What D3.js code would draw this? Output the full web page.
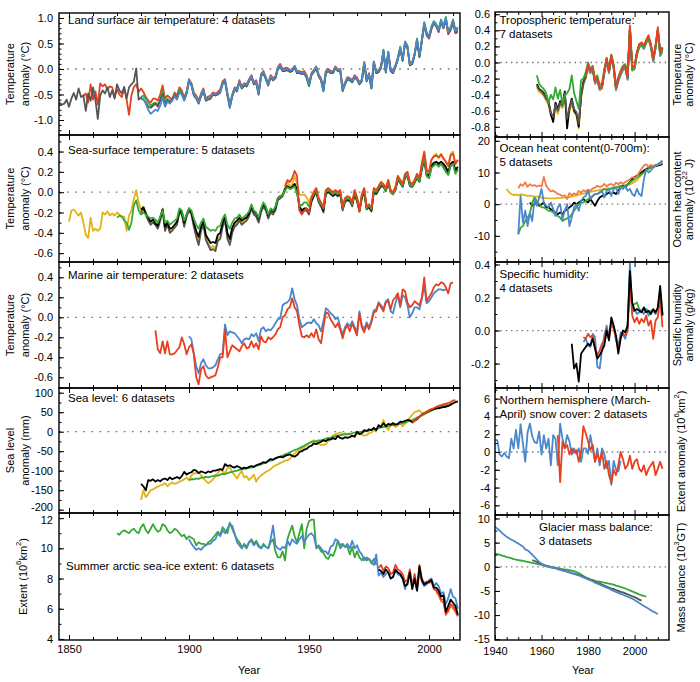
<!DOCTYPE html>
<html>
<head>
<meta charset="utf-8">
<script src="https://cdn.jsdelivr.net/npm/d3@7"></script>
<style>
  body { margin: 0; background: #fff; }
</style>
</head>
<body>
<script>
// ---- data (annual values) ----
const landGrayStart = 1846;
const landGray = [-0.66,-0.70,-0.68,-0.60,-0.74,-0.58,-0.47,-0.60,-0.38,-0.55,-0.52,-0.82,-0.48,-0.62,-0.36,-0.60,-0.98,-0.52,-0.42,-0.48,-0.36,-0.55,-0.42,-0.58,-0.30,-0.42,-0.48,-0.35,-0.58,-0.36,-0.30,-0.25,0.01,-0.60,
  -0.56,-0.60,-0.66,-0.74,-0.76,-0.72,-0.68,-0.74,-0.62,-0.50, -0.70,-0.62,-0.66,-0.58,-0.52,-0.58,-0.44,-0.50,-0.60,-0.48,
  -0.24,-0.32,-0.52,-0.58,-0.68,-0.54,-0.44,-0.62,-0.60,-0.58, -0.50,-0.52,-0.50,-0.46,-0.30,-0.24,-0.52,-0.76,-0.54,-0.40,
  -0.44,-0.26,-0.38,-0.32,-0.34,-0.24,-0.16,-0.30,-0.27,-0.50, -0.14,-0.08,-0.20,-0.32,-0.16,-0.22,-0.18,0.00,0.05,-0.04,
  -0.03,-0.02,-0.05,-0.04,0.04,-0.08,-0.07,-0.10,-0.08,-0.17, -0.32,-0.12,-0.05,0.02,-0.14,-0.22,-0.42,-0.08,-0.04,-0.08,
  -0.07,0.02,-0.04,-0.03,-0.42,-0.30,-0.20,-0.22,-0.26,-0.16, -0.21,-0.30,-0.24,0.10,-0.24,-0.12,-0.38,0.12,-0.08,-0.06,
  0.02,0.34,-0.07,0.30,-0.04,-0.08,0.04,0.18,0.40,0.16, 0.50,0.42,0.07,0.10,0.28,0.56,0.24,0.54,0.88,0.68,
  0.60,0.80,0.90,0.83,0.74,0.93,0.80,0.98,0.70,0.78, 0.93,0.72,0.76];
const landRedStart = 1856;
const landRed = [-0.52,-0.48,-0.66,-0.30,-0.60,-0.44,-0.70,-0.28,-0.34,-0.30,-0.40,-0.34,-0.36,-0.55,-0.40,-0.50,-0.55,-0.38,-0.60,-0.90,-0.52,-0.36,-0.30,-0.45,
  -0.38,-0.45,-0.55,-0.62,-0.66,-0.58,-0.58,-0.62,-0.50,-0.32, -0.58,-0.52,-0.56,-0.60,-0.46,-0.52,-0.36,-0.42,-0.56,-0.44,
  -0.20,-0.28,-0.46,-0.52,-0.62,-0.48,-0.38,-0.58,-0.54,-0.52, -0.46,-0.48,-0.45,-0.40,-0.24,-0.20,-0.46,-0.70,-0.50,-0.36,
  -0.38,-0.22,-0.34,-0.28,-0.30,-0.20,-0.12,-0.26,-0.22,-0.45, -0.10,-0.04,-0.16,-0.28,-0.12,-0.18,-0.14,0.04,0.10,0.00,
  0.02,0.02,-0.02,0.00,0.06,-0.04,-0.04,-0.06,-0.04,-0.12, -0.28,-0.08,-0.02,0.05,-0.10,-0.18,-0.38,-0.04,0.00,-0.04,
  -0.04,0.05,-0.01,0.00,-0.38,-0.26,-0.16,-0.18,-0.22,-0.12, -0.17,-0.26,-0.20,0.14,-0.20,-0.08,-0.34,0.15,-0.04,-0.02,
  0.06,0.34,-0.04,0.33,0.00,-0.04,0.08,0.21,0.40,0.20, 0.50,0.42,0.10,0.14,0.30,0.56,0.24,0.55,0.86,0.66,
  0.60,0.78,0.90,0.84,0.72,0.92,0.80,0.96,0.68,0.76, 0.90,0.70,0.72];
const landGreenStart = 1880;
const landGreen = [-0.55,-0.52,-0.58,-0.66,-0.72,-0.68,-0.66,-0.70,-0.60,-0.42, -0.66,-0.58,-0.62,-0.62,-0.50,-0.56,-0.40,-0.46,-0.60,-0.46,
  -0.22,-0.30,-0.50,-0.56,-0.66,-0.52,-0.42,-0.62,-0.58,-0.56, -0.50,-0.52,-0.48,-0.44,-0.28,-0.24,-0.50,-0.72,-0.54,-0.40,
  -0.42,-0.26,-0.38,-0.32,-0.34,-0.24,-0.16,-0.30,-0.26,-0.50, -0.14,-0.08,-0.20,-0.32,-0.16,-0.22,-0.18,0.00,0.04,-0.04,
  -0.04,-0.02,-0.06,-0.04,0.04,-0.08,-0.08,-0.10,-0.08,-0.18, -0.34,-0.12,-0.06,0.02,-0.14,-0.22,-0.44,-0.08,-0.04,-0.08,
  -0.08,0.02,-0.04,-0.02,-0.44,-0.30,-0.20,-0.22,-0.26,-0.16, -0.20,-0.30,-0.24,0.12,-0.24,-0.12,-0.38,0.12,-0.08,-0.06,
  0.02,0.38,-0.06,0.34,-0.04,-0.08,0.04,0.22,0.44,0.16, 0.54,0.46,0.08,0.10,0.28,0.60,0.24,0.58,0.92,0.72,
  0.64,0.84,0.94,0.88,0.78,0.97,0.84,1.02,0.74,0.82, 0.97,0.76,0.82];
const landBlueStart = 1880;
const landBlue = [-0.60,-0.58,-0.68,-0.80,-0.88,-0.84,-0.80,-0.82,-0.72,-0.55, -0.74,-0.64,-0.68,-0.62,-0.54,-0.60,-0.45,-0.50,-0.62,-0.48,
  -0.22,-0.32,-0.50,-0.56,-0.66,-0.52,-0.42,-0.60,-0.58,-0.55, -0.48,-0.50,-0.47,-0.44,-0.28,-0.22,-0.50,-0.74,-0.52,-0.38,
  -0.42,-0.25,-0.36,-0.30,-0.32,-0.22,-0.14,-0.28,-0.25,-0.48, -0.12,-0.06,-0.18,-0.30,-0.14,-0.20,-0.16,0.02,0.07,-0.02,
  -0.01,0.00,-0.03,-0.02,0.06,-0.06,-0.05,-0.08,-0.06,-0.15, -0.30,-0.10,-0.03,0.04,-0.12,-0.20,-0.42,-0.06,-0.02,-0.06,
  -0.05,0.04,-0.02,-0.01,-0.40,-0.28,-0.18,-0.20,-0.24,-0.14, -0.19,-0.28,-0.22,0.12,-0.22,-0.10,-0.36,0.14,-0.06,-0.04,
  0.04,0.36,-0.05,0.32,-0.02,-0.06,0.06,0.20,0.42,0.18, 0.52,0.44,0.09,0.12,0.30,0.58,0.26,0.56,0.90,0.70,
  0.62,0.82,0.92,0.85,0.76,0.95,0.82,1.00,0.72,0.80, 0.95,0.74,0.80];

const sstYellowStart = 1850;
const sstYellow = [-0.29,-0.18,-0.17,-0.20,-0.23,-0.20,-0.30,-0.42,-0.45,-0.25, -0.38,-0.36,-0.38,-0.36,-0.20,-0.22,-0.19,-0.23,-0.21,-0.23,
  -0.20,-0.22,-0.24,-0.24,-0.38,-0.23,-0.18,-0.07,0.02,-0.10,
  -0.18,-0.14,-0.20,-0.26,-0.30,-0.28,-0.30,-0.34,-0.26,-0.16, -0.36,-0.30,-0.38,-0.36,-0.33,-0.30,-0.18,-0.20,-0.32,-0.22,
  -0.16,-0.20,-0.32,-0.42,-0.50,-0.36,-0.30,-0.45,-0.50,-0.55, -0.53,-0.56,-0.46,-0.44,-0.32,-0.26,-0.44,-0.50,-0.38,-0.32,
  -0.30,-0.26,-0.30,-0.28,-0.26,-0.22,-0.14,-0.20,-0.22,-0.28, -0.18,-0.12,-0.16,-0.24,-0.18,-0.20,-0.16,-0.06,-0.04,-0.02,
  0.05,0.10,0.06,0.08,0.16,0.08,-0.02,-0.03,-0.02,-0.05, -0.10,-0.04,0.01,0.04,-0.06,-0.10,-0.14,0.02,0.04,0.02,
  0.00,0.02,0.00,0.02,-0.14,-0.06,-0.04,-0.05,-0.10,0.02, -0.05,-0.16,-0.02,0.04,-0.14,-0.12,-0.16,0.04,0.02,0.06,
  0.10,0.08,0.04,0.12,0.02,0.00,0.05,0.16,0.12,0.08, 0.18,0.20,0.10,0.08,0.12,0.18,0.14,0.28,0.40,0.22,
  0.20,0.32,0.36,0.38,0.34,0.38,0.34,0.30,0.26,0.38, 0.40,0.28,0.32];
const sstGreenStart = 1870;
const sstGreen = [-0.25,-0.23,-0.24,-0.28,-0.30,-0.37,-0.30,-0.13,-0.08,-0.18,
  -0.22,-0.20,-0.22,-0.24,-0.26,-0.25,-0.27,-0.30,-0.24,-0.18, -0.30,-0.28,-0.32,-0.30,-0.28,-0.26,-0.16,-0.18,-0.28,-0.22,
  -0.16,-0.18,-0.26,-0.32,-0.36,-0.30,-0.26,-0.34,-0.36,-0.38, -0.37,-0.38,-0.34,-0.33,-0.26,-0.22,-0.32,-0.36,-0.30,-0.26,
  -0.25,-0.22,-0.26,-0.24,-0.22,-0.19,-0.12,-0.18,-0.20,-0.25, -0.16,-0.10,-0.14,-0.22,-0.16,-0.18,-0.14,-0.06,-0.04,-0.03,
  0.02,0.05,0.03,0.04,0.06,-0.02,-0.12,-0.13,-0.10,-0.10, -0.14,-0.06,-0.02,0.02,-0.08,-0.12,-0.16,0.00,0.02,0.00,
  -0.02,0.00,-0.02,0.00,-0.16,-0.08,-0.06,-0.07,-0.12,0.00, -0.07,-0.18,-0.04,0.02,-0.16,-0.13,-0.17,0.02,0.00,0.04,
  0.08,0.06,0.02,0.10,0.00,-0.02,0.03,0.14,0.10,0.06, 0.15,0.17,0.07,0.06,0.10,0.15,0.11,0.24,0.34,0.16,
  0.14,0.24,0.26,0.28,0.25,0.28,0.24,0.20,0.17,0.26, 0.28,0.18,0.22];
const sstGrayStart = 1880;
const sstGray = [-0.20,-0.16,-0.22,-0.28,-0.32,-0.30,-0.32,-0.36,-0.28,-0.18, -0.38,-0.32,-0.40,-0.38,-0.35,-0.32,-0.20,-0.22,-0.34,-0.24,
  -0.18,-0.22,-0.34,-0.44,-0.52,-0.38,-0.32,-0.47,-0.52,-0.57, -0.56,-0.58,-0.48,-0.46,-0.34,-0.28,-0.46,-0.52,-0.40,-0.34,
  -0.32,-0.28,-0.32,-0.30,-0.28,-0.24,-0.16,-0.22,-0.24,-0.30, -0.20,-0.14,-0.18,-0.26,-0.20,-0.22,-0.18,-0.08,-0.06,-0.04,
  0.02,0.06,0.04,0.05,0.08,0.02,-0.16,-0.20,-0.18,-0.18, -0.22,-0.10,-0.04,0.00,-0.10,-0.14,-0.20,-0.02,0.00,-0.02,
  -0.04,-0.02,-0.04,-0.02,-0.18,-0.10,-0.08,-0.09,-0.14,-0.02, -0.09,-0.19,-0.06,0.00,-0.17,-0.15,-0.19,0.00,-0.02,0.02,
  0.06,0.05,0.01,0.09,0.00,-0.02,0.02,0.12,0.09,0.05, 0.14,0.16,0.06,0.05,0.09,0.14,0.10,0.22,0.32,0.16,
  0.14,0.24,0.27,0.28,0.26,0.28,0.26,0.22,0.18,0.26, 0.28,0.20,0.23];
const sstBlackStart = 1880;
const sstBlack = [-0.17,-0.15,-0.21,-0.25,-0.29,-0.27,-0.31,-0.33,-0.25,-0.17, -0.34,-0.30,-0.36,-0.35,-0.32,-0.29,-0.18,-0.20,-0.30,-0.22,
  -0.16,-0.20,-0.30,-0.38,-0.44,-0.34,-0.28,-0.42,-0.46,-0.50, -0.49,-0.50,-0.42,-0.40,-0.30,-0.24,-0.40,-0.46,-0.35,-0.30,
  -0.28,-0.25,-0.28,-0.26,-0.25,-0.21,-0.14,-0.19,-0.21,-0.26, -0.17,-0.12,-0.15,-0.23,-0.17,-0.19,-0.15,-0.06,-0.04,-0.03,
  0.03,0.06,0.04,0.05,0.08,0.02,-0.14,-0.18,-0.16,-0.16, -0.20,-0.08,-0.03,0.01,-0.08,-0.12,-0.18,-0.01,0.01,-0.01,
  -0.03,-0.01,-0.03,-0.01,-0.16,-0.08,-0.07,-0.08,-0.12,-0.01, -0.08,-0.18,-0.05,0.01,-0.16,-0.14,-0.18,0.01,-0.01,0.03,
  0.07,0.06,0.02,0.10,0.01,-0.01,0.03,0.13,0.10,0.06, 0.15,0.17,0.07,0.06,0.10,0.15,0.11,0.24,0.34,0.18,
  0.16,0.26,0.29,0.30,0.28,0.30,0.28,0.25,0.20,0.28, 0.30,0.22,0.25];
const sstRedStart = 1940;
const sstRed = [0.06,0.12,0.10,0.14,0.21,0.16,-0.18,-0.22,-0.18,-0.16, -0.20,-0.06,0.00,0.04,-0.06,-0.10,-0.16,0.02,0.04,0.02,
  0.00,0.02,0.00,0.02,-0.14,-0.06,-0.04,-0.05,-0.10,0.02, -0.05,-0.19,-0.02,0.04,-0.14,-0.12,-0.16,0.04,0.02,0.06,
  0.10,0.08,0.04,0.12,0.02,0.00,0.05,0.16,0.12,0.08, 0.18,0.20,0.10,0.08,0.12,0.18,0.14,0.28,0.40,0.22,
  0.20,0.32,0.35,0.36,0.34,0.37,0.33,0.30,0.26,0.36, 0.38,0.28,0.32];

const matRedStart = 1886;
const matRed = [-0.13,-0.32,-0.36,-0.24,
  -0.36,-0.24,-0.37,-0.37,-0.36,-0.33,-0.30,-0.20,-0.27,-0.37, -0.30,-0.27,-0.37,-0.60,-0.67,-0.52,-0.49,-0.58,-0.61,-0.60,
  -0.59,-0.58,-0.50,-0.40,-0.40,-0.12,-0.40,-0.34,-0.28,-0.30, -0.32,-0.34,-0.29,-0.26,-0.31,-0.30,-0.24,-0.30,-0.26,-0.32,
  -0.19,-0.24,-0.25,-0.20,-0.22,-0.20,-0.17,-0.12,-0.10,0.00, 0.02,0.08,0.10,0.19,0.10,0.06,-0.08,-0.19,-0.20,-0.18,
  -0.20,-0.16,-0.20,-0.12,-0.22,-0.26,-0.10,0.05,0.04,-0.02, -0.06,-0.10,-0.06,-0.12,-0.21,-0.12,-0.08,-0.14,-0.06,-0.12,
  -0.18,0.04,-0.10,-0.15,-0.07,-0.12,-0.05,0.05,0.06,0.14, 0.10,0.06,0.15,0.16,0.08,0.17,0.20,0.24,0.12,0.28,
  0.26,0.15,0.10,0.12,0.16,0.14,0.12,0.20,0.40,0.16, 0.20,0.24,0.30,0.33,0.32,0.35,0.34,0.30,0.24,0.34, 0.35];
const matBlueStart = 1900;
const matBlue = [-0.19,-0.22,-0.36,-0.49,-0.56,-0.46,-0.42,-0.48,-0.51,-0.51, -0.50,-0.48,-0.42,-0.37,-0.36,-0.07,-0.18,-0.14,-0.15,-0.16,
  -0.19,-0.22,-0.26,-0.22,-0.21,-0.22,-0.17,-0.19,-0.16,-0.24, -0.12,-0.10,-0.14,-0.12,-0.13,-0.10,-0.06,-0.02,-0.01,0.12,
  0.14,0.15,0.18,0.29,0.18,0.12,-0.02,-0.10,-0.08,-0.06, -0.05,-0.06,-0.02,-0.06,-0.08,-0.14,-0.04,0.09,0.07,0.04,
  0.02,-0.02,0.00,-0.10,-0.17,-0.10,-0.06,-0.09,-0.04,-0.10, -0.14,0.06,-0.08,-0.12,-0.05,-0.10,-0.03,0.07,0.08,0.15,
  0.12,0.08,0.16,0.18,0.06,0.04,0.14,0.22,0.10,0.22, 0.20,0.12,0.00,0.04,0.10,0.10,0.08,0.18,0.32,0.14,
  0.16,0.20,0.24,0.26,0.28,0.28,0.27,0.28];

const slBlackStart = 1880;
const slBlack = [-134,-140,-150,-124,-126,-122,-128,-124,-127,-122, -120,-124,-117,-122,-119,-116,-120,-114,-103,-110,
  -106,-104,-98,-100,-106,-102,-104,-106,-102,-104, -100,-100,-98,-96,-98,-83,-88,-86,-90,-92,
  -88,-91,-95,-92,-94,-90,-88,-90,-86,-84, -82,-78,-80,-74,-70,-72,-68,-66,-64,-66,
  -62,-60,-58,-62,-64,-60,-52,-50,-46,-44, -38,-36,-30,-32,-28,-26,-22,-24,-20,-20,
  -16,-19,-11,-16,-18,-14,-16,-14,-10,-13, 0,-6,-4,4,2,6,4,10,4,17,
  12,22,14,20,18,22,18,20,26,25, 28,30,29,24,28,32,38,44,48,50,
  54,56,58,60,60,62,63,64,66,70, 73,76,78];
const slYellowStart = 1880;
const slYellow = [-175,-150,-168,-160,-150,-148,-144,-141,-138,-136, -132,-140,-134,-130,-134,-132,-128,-126,-122,-118,
  -124,-112,-106,-107,-104,-112,-120,-126,-132,-128, -122,-115,-106,-97,-102,-106,-94,-91,-104,-112,
  -120,-108,-102,-117,-114,-124,-118,-110,-128,-118, -112,-108,-103,-100,-96,-90,-86,-84,-80,-78,
  -74,-73,-70,-62,-56,-50,-47,-44,-40,-34, -30,-26,-22,-26,-30,-34,-34,-32,-24,-18,
  -9,-6,-4,-2,-6,-4,-8,-6,-12,-10, -6,-4,-8,-10,-9,-4,-2,4,6,10,
  14,30,14,4,16,18,12,16,24,14, 20,28,36,44,50,52,55,48,44,52,
  56,58,60,62,64,62,66,64,66,68, 70];
const slGreenStart = 1900;
const slGreen = [-124,-122,-122,-120,-121,-118,-118,-116,-117,-115, -114,-112,-113,-110,-108,-109,-106,-104,-103,-101,
  -100,-98,-97,-95,-94,-93,-92,-90,-88,-86, -84,-81,-79,-76,-74,-72,-69,-66,-64,-61,
  -58,-56,-53,-50,-47,-45,-42,-39,-36,-32, -29,-26,-25,-24,-22,-22,-20,-18,-16,-15,
  -13,-11,-10,-9,-8,-7,-6,-5,-4,-2, -2,-1,0,0,2,3,5,6,7,9,
  11,12,13,14,16,17,18,19,20,22, 24,26,28,30,33,36,39,42,45,48,
  51,54,57,60,62,64,66,68,69];
const slRedStart = 1993;
const slRed = [22,28,33,38,44,47,50,54,58,60,64,66,68,70,72,73,76,80,81];

const iceGreenStart = 1870;
const iceGreen = [11.0,10.9,11.1,11.2,11.1,11.0,11.2,11.3,11.1,11.0, 11.4,11.6,11.2,11.0,11.3,11.6,11.3,11.1,11.2,11.6,
  11.5,11.2,11.0,11.1,11.3,11.2,11.0,10.8,10.9,10.6, 10.8,10.7,10.6,10.2,10.4,10.3,10.3,10.2,10.4,10.5,
  10.7,10.9,11.1,10.9,11.4,11.2,11.0,11.7,11.3,10.9, 10.6,10.4,10.1,10.2,10.0,10.4,10.6,10.3,10.5,10.2,
  10.0,10.3,10.1,10.0,10.4,10.6,9.8,9.4,9.4,9.8, 9.2,10.6,11.1,11.5,10.8,10.4,11.0,11.6,10.0,11.3,
  11.8,11.9,11.9,10.0,10.1,9.8,9.7,9.4,9.3,9.6, 9.5,9.9,10.5,10.2,10.3,10.1,10.1,9.6,10.1,9.4,
  9.8,9.4,9.2,9.4,9.2,9.3,9.0,9.3,8.9];
const iceBlueStart = 1900;
const iceBlue = [10.6,10.3,10.1,9.9,10.0,9.9,10.1,10.2,10.3,10.3, 10.5,10.6,11.0,10.8,11.2,11.0,11.3,11.6,11.5,11.0,
  10.4,10.2,10.0,10.3,10.1,10.4,10.5,10.2,10.4,10.1, 10.0,10.2,10.1,10.0,10.6,11.5,10.2,10.0,9.9,10.1,
  10.0,10.5,10.2,10.6,10.4,10.3,10.6,10.8,10.4,10.7, 10.9,11.0,10.8,10.1,10.2,10.0,9.8,9.8,9.6,10.1,
  10.2,10.6,10.5,10.0,10.2,10.1,10.3,10.0,10.5,10.0, 10.2,9.8,9.6,9.2,9.4,9.3,9.1,8.9,9.6,8.2,
  8.4,8.1,8.3,8.4,8.0,8.1,8.5,8.3,8.2,8.0, 7.3,7.8,8.4,7.4,8.0,7.2,8.4,7.8,7.5,7.6,
  7.9,8.0,7.5,7.7,7.5,7.0,7.1,6.3,6.7,7.3, 6.8,6.7,6.0];
const iceBlackStart = 1979;
const iceBlack = [8.6,8.5,8.3,8.6,8.4,8.0,8.1,8.6,8.4,8.3, 8.0,7.5,7.6,8.4,7.3,8.0,7.2,8.8,7.9,7.6,
  7.7,7.8,7.9,7.4,7.4,7.2,6.8,6.9,5.8,6.2, 6.6,6.4,6.2,5.6];
const iceRedStart = 1979;
const iceRed = [8.7,8.9,8.5,8.8,8.7,8.3,8.4,8.9,8.6,8.5, 8.3,7.8,7.9,8.6,7.5,8.3,7.4,8.9,8.0,7.7,
  7.8,7.7,7.8,7.3,7.2,7.0,6.6,6.6,5.6,5.9, 6.3,6.2,5.9,5.5];
const iceOrangeStart = 2003;
const iceOrange = [7.1,6.9,6.5,6.4,5.7,5.8,6.2,6.0,5.8,5.5];

const troStart = 1958;
const troYellow = [-0.31,-0.37,-0.38,-0.42,-0.47,-0.53,-0.66,-0.72,-0.55,-0.64, -0.53,-0.57,-0.41,-0.74,-0.61,-0.50,-0.62,-0.66,-0.82,-0.45,
  -0.28,-0.20,-0.07,-0.14,-0.10,-0.27,-0.23,-0.35,-0.33,-0.14, 0.01,-0.14,0.05,-0.08,-0.35,-0.24,-0.16,-0.10,-0.08,-0.22,
  0.40,-0.10,-0.08,0.09,0.19,0.21,0.17,0.24,0.28,0.19, 0.01,0.17,0.38,0.09,0.15];
const troBlack = [-0.27,-0.33,-0.35,-0.38,-0.45,-0.48,-0.64,-0.74,-0.50,-0.58, -0.48,-0.52,-0.36,-0.82,-0.56,-0.45,-0.60,-0.64,-0.80,-0.40,
  -0.24,-0.17,-0.04,-0.11,-0.07,-0.24,-0.20,-0.32,-0.30,-0.11, 0.04,-0.11,0.08,-0.05,-0.32,-0.21,-0.13,-0.07,-0.05,-0.19,
  0.43,-0.07,-0.05,0.12,0.22,0.24,0.20,0.27,0.31,0.22, 0.04,0.20,0.41,0.12,0.18];
const troGray = [-0.29,-0.34,-0.36,-0.40,-0.44,-0.50,-0.62,-0.68,-0.52,-0.60, -0.50,-0.54,-0.38,-0.70,-0.58,-0.47,-0.58,-0.62,-0.76,-0.42,
  -0.26,-0.18,-0.05,-0.12,-0.08,-0.25,-0.21,-0.33,-0.31,-0.12, 0.03,-0.12,0.07,-0.06,-0.33,-0.22,-0.14,-0.08,-0.06,-0.20,
  0.42,-0.08,-0.06,0.11,0.21,0.23,0.19,0.26,0.30,0.21, 0.03,0.19,0.40,0.11,0.17];
const troGreen = [-0.16,-0.27,-0.30,-0.33,-0.38,-0.50,-0.40,-0.46,-0.31,-0.45, -0.34,-0.52,-0.42,-0.38,-0.33,-0.16,-0.38,-0.48,-0.58,-0.22,
  -0.20,-0.12,0.00,-0.08,-0.04,-0.20,-0.16,-0.28,-0.26,-0.08, 0.06,-0.08,0.10,-0.02,-0.28,-0.18,-0.10,-0.04,-0.02,-0.12,
  0.44,-0.10,-0.08,0.10,0.20,0.22,0.18,0.26,0.30,0.22, 0.04,0.18,0.40,0.10,0.16];
const troSatStart = 1979;
const troBlue = [-0.17,-0.05,-0.12,-0.09,-0.26,-0.21,-0.33,-0.31,-0.13,0.02, -0.12,0.06,-0.06,-0.34,-0.23,-0.15,-0.09,-0.07,-0.21,0.43,
  -0.09,-0.07,0.10,0.19,0.21,0.17,0.24,0.30,0.19,0.01, 0.17,0.40,0.08,0.13];
const troRed = [-0.15,-0.02,-0.10,-0.06,-0.23,-0.19,-0.31,-0.29,-0.10,0.05, -0.10,0.09,-0.04,-0.31,-0.20,-0.12,-0.06,-0.04,-0.18,0.46,
  -0.06,-0.04,0.13,0.23,0.25,0.21,0.28,0.34,0.23,0.05, 0.21,0.44,0.13,0.19];

const ohcYellowStart = 1945;
const ohcYellow = [4.8,3.8,3.2,2.9,3.0, 2.8,3.1,3.0,2.8,2.6,2.7,2.5,2.4,2.4,2.2, 2.1,2.0,1.9,1.8,1.8,1.8,1.8,1.9,2.0,2.1,
  2.1,2.1,2.2,2.4,2.6,2.7,3.0,3.2,3.3,3.5, 3.7,3.9,4.0,4.2,4.3,4.5,4.7,4.8,4.9,5.0,
  5.1,5.3,5.4,5.6,5.8,5.9,6.0,6.1,6.2,6.6, 7.0,7.6,8.5,9.2,10.2,11.0,11.6,11.8,12.0,12.2, 12.4,12.6,12.8];
const ohcStart = 1950;
const ohcOrange = [5.0,6.3,5.8,6.9,5.5,6.3,5.8,6.0,5.6,5.9, 5.6,8.6,5.8,4.8,4.0,4.3,3.8,3.2,3.0,2.6,
  2.8,1.6,3.5,2.8,3.4,3.0,4.2,3.6,4.4,4.0, 4.6,4.2,5.0,5.2,5.8,5.4,5.7,6.4,5.6,6.2,
  6.4,5.8,6.8,6.3,6.9,6.4,7.0,7.4,7.9,8.5, 8.2,8.8,10.0,11.2,12.2,12.6,11.8,12.4,12.0,12.4, 12.6,12.8,13.6];
const ohcBlue = [-9.5,2.6,-5.8,-2.0,-6.9,-2.6,-5.3,1.6,-0.5,2.1, 4.8,0.5,-0.5,-1.0,0.5,-1.5,-3.7,-1.0,0.0,-4.8,
  -2.1,0.0,-6.9,-4.2,-1.0,0.0,-2.1,1.0,2.1,2.6, 4.2,1.6,2.6,3.2,3.2,3.7,4.2,2.1,4.2,4.8,
  2.6,4.8,5.3,3.2,5.3,4.8,5.8,4.2,4.8,3.2, 2.6,4.8,3.2,2.6,7.9,11.1,10.0,10.6,11.6,12.2, 12.6,13.2,13.8];
const ohcGreen = [-9.5,-7.4,-6.9,-5.3,-4.2,-3.0,0.5,2.1,1.0,0.0, -1.0,-1.0,-1.5,-2.1,-2.1,-2.6,-3.2,-3.7,-4.2,-5.3,
  -4.8,-4.5,-4.2,-3.2,-2.1,-1.0,0.0,0.5,0.5,1.0, 1.6,2.1,2.6,3.2,3.2,3.7,4.2,4.8,4.5,4.8,
  4.8,5.3,5.3,5.3,5.8,5.5,5.8,6.3,6.9,7.4, 7.9,8.5,9.0,9.5,10.0,10.6,11.1,11.6,11.8,12.0, 12.4,12.7,13.0];
const ohcBlackStart = 1955;
const ohcBlack = [0.5,-0.5,0.0,0.5,-0.5, 0.0,0.5,-1.0,-1.0,-1.6,-2.1,-2.6,-3.2,-2.6,-3.2,
  -2.1,-1.6,-1.0,-0.5,0.5,0.0,0.5,1.0,1.6,1.0, 0.5,1.6,0.5,-0.5,1.0,2.1,2.6,2.6,3.2,3.7,
  3.2,3.7,3.2,4.2,5.3,5.8,5.3,6.3,6.9,7.9, 8.5,9.0,9.5,10.0,10.6,11.1,11.4,11.6,11.8,12.0, 12.2,12.4,12.6];

const humBlackStart = 1973;
const humBlack = [-0.08,-0.23,-0.20,-0.31,-0.14,-0.12,-0.10, -0.08,-0.09,-0.05,-0.11,-0.17,-0.15,-0.12,-0.09,0.00,-0.06,
  0.08,0.03,-0.03,-0.14,-0.05,0.00,-0.01,0.03,0.36,0.17, 0.12,0.13,0.12,0.11,0.14,0.11,0.12,0.10,0.13,0.11, 0.14,0.27,0.09];
const humStart = 1978;
const humBlue = [-0.07,-0.05, -0.09,-0.10,-0.02,-0.04,-0.22,-0.23,-0.12,-0.03,0.03,-0.04,
  0.06,0.03,-0.06,-0.10,-0.01,-0.02,-0.05,0.01,0.41,0.11, 0.13,0.10,0.11,0.12,0.10,0.13,0.09,0.11,0.12,0.10, 0.13,0.22,0.10];
const humRed = [-0.04,-0.05, -0.02,-0.04,-0.03,-0.10,-0.15,-0.12,-0.08,-0.06,0.01,-0.05,
  0.05,0.01,-0.04,-0.12,-0.04,-0.02,-0.03,0.00,0.30,0.09, 0.05,0.08,0.04,0.07,0.05,0.09,0.03,0.06,-0.05,0.06, 0.08,0.20,0.02];
const humGreenStart = 1995;
const humGreen = [0.00,-0.01,0.02,0.34,0.15, 0.16,0.17,0.13,0.12,0.12,0.13,0.11,0.12,0.12,0.11, 0.13,0.25,0.10];

const snowBlueStart = 1940;
const snowBlue = [1.4,1.3,-0.3,-0.5,-0.1,-0.5,-0.7,1.5,0.4,2.5, 0.4,3.1,1.0,-1.1,2.2,3.2,1.8,1.1,1.0,2.3,
  -0.3,1.9,0.4,1.5,-1.5,1.9,1.5,-1.5,3.2,1.5, 0.4,1.9,1.2,-0.3,0.4,-0.2,0.4,-1.1,0.4,0.4,
  -0.2,1.9,0.4,-1.1,0.4,-1.5,0.4,-0.2,-1.8,-1.0, -3.7,-1.0,-2.0,-2.2,-1.0];
const snowRedStart = 1967;
const snowRed = [1.9,-3.4,1.2, 0.4,0.8,-0.3,0.4,-0.1,0.2,-1.1,0.0,2.9,2.1, 1.2,0.2,0.8,-1.1,-0.2,-1.1,0.0,-1.9,-1.0,-2.6,
  -3.5,-2.0,-2.6,-1.5,0.0,-0.8,-1.9,-1.5,-0.4,-1.9, -1.1,-0.8,-1.9,-2.2,-1.5,-2.6,-1.9,-1.5,-1.1,-2.6, -1.9,-1.1,-1.9];

const glacStart = 1940;
const glacBlue = [8.3,7.9,7.5,7.0,6.6,6.2,5.9,5.6,5.4,5.1, 4.8,4.5,4.2,3.6,3.4,3.0,2.5,2.0,1.5,1.0,
  0.6,0.3,0.1,0.0,-0.1,-0.2,-0.3,-0.5,-0.6,-0.8, -0.9,-1.0,-1.2,-1.3,-1.5,-1.6,-1.8,-2.0,-2.2,-2.4,
  -2.6,-2.8,-3.0,-3.3,-3.5,-3.7,-3.9,-4.1,-4.3,-4.5, -4.8,-5.0,-5.2,-5.4,-5.6,-5.8,-6.0,-6.2,-6.4,-6.6,
  -6.9,-7.2,-7.5,-7.8,-8.1,-8.4,-8.7,-9.0,-9.3,-9.5, -9.8];
const glacGreen = [2.7,2.6,2.5,2.3,2.2,2.0,1.9,1.8,1.6,1.5, 1.4,1.3,1.2,1.1,1.0,0.9,0.8,0.7,0.6,0.5,
  0.4,0.3,0.2,0.1,0.0,-0.1,-0.2,-0.3,-0.4,-0.5, -0.6,-0.6,-0.7,-0.8,-0.9,-1.1,-1.3,-1.6,-1.9,-2.2,
  -2.4,-2.6,-2.7,-2.9,-3.0,-3.1,-3.2,-3.3,-3.4,-3.5, -3.6,-3.7,-3.9,-4.0,-4.2,-4.3,-4.5,-4.7,-4.9,-5.1,
  -5.3,-5.5,-5.7,-5.9,-6.0,-6.2];
const glacGrayStart = 1956;
const glacGray = [1.4,1.2,1.0,0.8, 0.6,0.4,0.2,0.1,-0.1,-0.2,-0.3,-0.5,-0.6,-0.7,
  -0.8,-1.0,-1.1,-1.3,-1.4,-1.6,-1.7,-1.9,-2.1,-2.3, -2.5,-2.7,-2.9,-3.1,-3.3,-3.5,-3.7,-3.9,-4.1,-4.3,
  -4.5,-4.6,-4.8,-5.0,-5.2,-5.3,-5.5,-5.7,-5.9,-6.1, -6.3,-6.5,-6.8,-7.0];

const leftYearTicks = [1850, 1900, 1950, 2000];
const rightYearTicks = [1940, 1960, 1980, 2000];

// ---- colours ----
const cRed = "#e8401e", cBlue = "#4b87cb", cGreen = "#36a935", cYellow = "#e2b317",
      cGray = "#555555", cBlack = "#000000", cOrange = "#f47b45";
const font = '"Liberation Sans", Arial, Helvetica, sans-serif';

const svg = d3.select("body").append("svg")
  .attr("width", 700)
  .attr("height", 682)
  .style("font-family", font);

const leftX = d3.scaleLinear().domain([1845.83, 2012.9]).range([59, 460]);
const rightX = d3.scaleLinear().domain([1940, 2014.8]).range([495, 669]);

const f1 = d => d.toFixed(1);
const f0 = d => String(d);

const panels = [
  { side: "left", top: 13, bottom: 135, domain: [-1.294, 1.098], major: [-1, -0.5, 0, 0.5, 1], minorStep: 0.1, fmt: f1, zero: true,
    title: [["Land surface air temperature: 4 datasets"]], tx: 68, ty: 24,
    label: [["Temperature"], ["anomaly (°C)"]],
    series: [[landRedStart, landRed, cRed], [landGreenStart, landGreen, cGreen], [landGrayStart, landGray, cGray], [landBlueStart, landBlue, cBlue]] },
  { side: "left", top: 135, bottom: 262, domain: [-0.687, 0.563], major: [-0.6, -0.4, -0.2, 0, 0.2, 0.4], minorStep: 0.1, fmt: f1, zero: true,
    title: [["Sea-surface temperature: 5 datasets"]], tx: 68, ty: 154,
    label: [["Temperature"], ["anomaly (°C)"]],
    series: [[sstYellowStart, sstYellow, cYellow], [sstGrayStart, sstGray, cGray], [sstBlackStart, sstBlack, cBlack], [sstGreenStart, sstGreen, cGreen], [sstRedStart, sstRed, cRed]] },
  { side: "left", top: 262, bottom: 388, domain: [-0.707, 0.553], major: [-0.6, -0.4, -0.2, 0, 0.2, 0.4], minorStep: 0.1, fmt: f1, zero: true,
    title: [["Marine air temperature: 2 datasets"]], tx: 68, ty: 279,
    label: [["Temperature"], ["anomaly (°C)"]],
    series: [[matBlueStart, matBlue, cBlue], [matRedStart, matRed, cRed]] },
  { side: "left", top: 388, bottom: 513, domain: [-208.5, 112.1], major: [-200, -150, -100, -50, 0, 50, 100], minorStep: 25, fmt: f0, zero: true,
    nudge: { "-200": -3 },
    title: [["Sea level: 6 datasets"]], tx: 68, ty: 402,
    label: [["Sea level"], ["anomaly (mm)"]],
    series: [[slYellowStart, slYellow, cYellow], [slGreenStart, slGreen, cGreen], [slBlackStart, slBlack, cBlack], [slRedStart, slRed, cRed]] },
  { side: "left", top: 513, bottom: 640, domain: [3.93, 12.34], major: [4, 6, 8, 10, 12], minorStep: 1, fmt: f0, zero: false,
    nudge: { "12": 2 },
    title: [["Summer arctic sea-ice extent: 6 datasets"]], tx: 66, ty: 570,
    label: [["Extent (10", {sup: "6"}, "km", {sup: "2"}, ")"]],
    series: [[iceGreenStart, iceGreen, cGreen], [iceBlueStart, iceBlue, cBlue], [iceOrangeStart, iceOrange, cOrange], [iceRedStart, iceRed, cRed], [iceBlackStart, iceBlack, cBlack]] },

  { side: "right", top: 12, bottom: 137, domain: [-0.927, 0.628], major: [-0.8, -0.6, -0.4, -0.2, 0, 0.2, 0.4, 0.6], minorStep: 0.1, fmt: f1, zero: true,
    title: [["Tropospheric temperature:"], ["7 datasets"]], tx: 499.5, ty: 24,
    label: [["Temperature"], ["anomaly (°C)"]],
    series: [[troStart, troYellow, cYellow], [troStart, troBlack, cBlack], [troStart, troGray, cGray], [troSatStart, troBlue, cBlue], [troStart, troGreen, cGreen], [troSatStart, troRed, cRed]] },
  { side: "right", top: 137, bottom: 262, domain: [-18.25, 21.2], major: [-10, 0, 10, 20], minorStep: 5, fmt: f0, zero: true,
    title: [["Ocean heat content(0-700m):"], ["5 datasets"]], tx: 499.5, ty: 152,
    label: [["Ocean heat content"], ["anomaly (10", {sup: "22"}, " J)"]],
    series: [[ohcYellowStart, ohcYellow, cYellow], [ohcBlackStart, ohcBlack, cBlack], [ohcStart, ohcGreen, cGreen], [ohcStart, ohcOrange, cOrange], [ohcStart, ohcBlue, cBlue]] },
  { side: "right", top: 262, bottom: 388, domain: [-0.348, 0.415], major: [-0.2, 0, 0.2, 0.4], minorStep: 0.1, fmt: f1, zero: true,
    title: [["Specific humidity:"], ["4 datasets"]], tx: 499.5, ty: 278,
    label: [["Specific humidity"], ["anomaly (g/kg)"]],
    series: [[humGreenStart, humGreen, cGreen], [humStart, humBlue, cBlue], [humStart, humRed, cRed], [humBlackStart, humBlack, cBlack]] },
  { side: "right", top: 388, bottom: 515, domain: [-7.09, 7.2], major: [-6, -4, -2, 0, 2, 4, 6], minorStep: 1, fmt: f0, zero: true,
    title: [["Northern hemisphere (March-"], ["April) snow cover: 2 datasets"]], tx: 499.5, ty: 404,
    label: [["Extent anomaly (10", {sup: "6"}, "km", {sup: "2"}, ")"]],
    series: [[snowBlueStart, snowBlue, cBlue], [snowRedStart, snowRed, cRed]] },
  { side: "right", top: 515, bottom: 640, domain: [-15.16, 10.72], major: [-15, -10, -5, 0, 5, 10], minorStep: 2.5, fmt: f0, zero: true,
    title: [["Glacier mass balance:"], ["3 datasets"]], tx: 539, ty: 531,
    label: [["Mass balance (10", {sup: "3"}, "GT)"]],
    series: [[glacStart, glacGreen, cGreen], [glacGrayStart, glacGray, cGray], [glacStart, glacBlue, cBlue]] }
];

function addRich(sel, parts, size) {
  parts.forEach(p => {
    if (typeof p === "string") {
      sel.append("tspan").text(p);
    } else {
      sel.append("tspan").attr("baseline-shift", "super").attr("font-size", size * 0.7).text(p.sup);
    }
  });
}

panels.forEach((p, i) => {
  const right = p.side === "right";
  const x = right ? rightX : leftX;
  const [x0, x1] = x.range();
  const y = d3.scaleLinear().domain(p.domain).range([p.bottom, p.top]);
  const g = svg.append("g");

  g.append("clipPath").attr("id", "clip" + i)
    .append("rect")
    .attr("x", x0).attr("y", p.top)
    .attr("width", x1 - x0).attr("height", p.bottom - p.top);

  if (p.zero) {
    g.append("line")
      .attr("x1", x0).attr("x2", x1)
      .attr("y1", y(0)).attr("y2", y(0))
      .attr("stroke", "#777")
      .attr("stroke-width", 1.3)
      .attr("stroke-dasharray", right ? "1.5,3.8" : "1.7,6.4");
  }

  const line = d3.line()
    .x(d => x(d[0]))
    .y(d => y(d[1]));

  p.series.forEach(([start, values, color]) => {
    g.append("path")
      .datum(values.map((v, k) => [start + k, v]))
      .attr("clip-path", `url(#clip${i})`)
      .attr("fill", "none")
      .attr("stroke", color)
      .attr("stroke-width", 1.8)
      .attr("stroke-linejoin", "round")
      .attr("d", line);
  });

  // y ticks (inward)
  const lo = Math.ceil(p.domain[0] / p.minorStep - 1e-6);
  const hi = Math.floor(p.domain[1] / p.minorStep + 1e-6);
  const minor = d3.range(lo, hi + 1).map(k => k * p.minorStep);
  g.append("g")
    .attr("transform", `translate(${x0},0)`)
    .call(d3.axisLeft(y).tickValues(minor).tickSize(-2.5).tickFormat(""))
    .call(a => a.select(".domain").remove());
  g.append("g")
    .attr("transform", `translate(${x0},0)`)
    .call(d3.axisLeft(y).tickValues(p.major).tickSize(-5).tickPadding(right ? 5 : 6).tickFormat(p.fmt))
    .call(a => a.select(".domain").remove())
    .call(a => a.selectAll("text")
      .attr("transform", d => p.nudge && p.nudge[String(d)] ? `translate(0,${p.nudge[String(d)]})` : null))
    .attr("font-size", 11)
    .attr("font-family", font);

  // x ticks on top and bottom edges (inward)
  const xMinor = right ? d3.range(1945, 2015, 5) : d3.range(1850, 2011, 10);
  const xMajor = right ? rightYearTicks : leftYearTicks;
  [[d3.axisTop, p.top], [d3.axisBottom, p.bottom]].forEach(([ax, yy]) => {
    g.append("g").attr("transform", `translate(0,${yy})`)
      .call(ax(x).tickValues(xMinor.filter(v => !xMajor.includes(v))).tickSize(-3).tickFormat(""))
      .call(a => a.select(".domain").remove());
    g.append("g").attr("transform", `translate(0,${yy})`)
      .call(ax(x).tickValues(xMajor).tickSize(-5).tickFormat(""))
      .call(a => a.select(".domain").remove());
  });

  if (i === 4 || i === 9) {
    g.append("g").attr("transform", `translate(0,${p.bottom})`)
      .call(d3.axisBottom(x).tickValues(xMajor).tickSize(0).tickPadding(right ? 7 : 5).tickFormat(d3.format("d")))
      .call(a => a.select(".domain").remove())
      .attr("font-size", 11)
      .attr("font-family", font);
    g.append("text")
      .attr("x", right ? 583 : 249)
      .attr("y", 674)
      .attr("text-anchor", "middle")
      .style("font-size", "11px")
      .text("Year");
  }

  g.append("rect")
    .attr("x", x0).attr("y", p.top)
    .attr("width", x1 - x0).attr("height", p.bottom - p.top)
    .attr("fill", "none")
    .attr("stroke", "#000")
    .attr("stroke-width", 1.4);

  p.title.forEach((t, k) => {
    const txt = g.append("text")
      .attr("x", p.tx)
      .attr("y", p.ty + k * 13.5)
      .style("font-size", "11.5px");
    addRich(txt, t, 11.5);
  });

  const cy = (p.top + p.bottom) / 2;
  const cols = p.label.length === 2
    ? (right ? [677, 689] : [10, 25])
    : (right ? [680.5] : [23]);
  p.label.forEach((t, k) => {
    const txt = g.append("text")
      .attr("transform", `translate(${cols[k]},${cy}) rotate(-90)`)
      .attr("text-anchor", "middle")
      .attr("dominant-baseline", "central")
      .style("font-size", "11px");
    addRich(txt, t, 11);
  });
});
</script>
</body>
</html>
